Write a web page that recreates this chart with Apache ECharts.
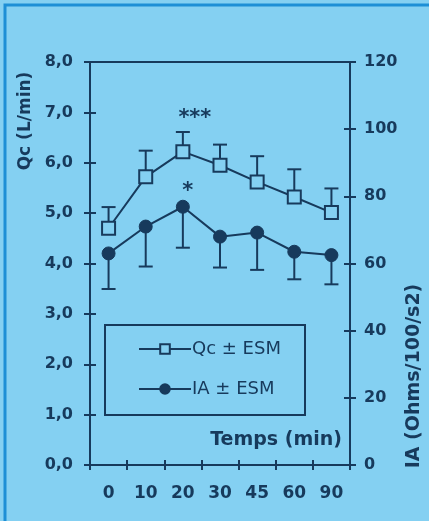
<!DOCTYPE html>
<html>
<head>
<meta charset="utf-8">
<script src="https://cdn.jsdelivr.net/npm/echarts@6/dist/echarts.min.js"></script>
<style>
html,body{margin:0;padding:0;background:#84d0f2;}
#c{width:429px;height:521px;}
</style>
</head>
<body>
<div id="c"></div>
<script>
// ---- data ----
var categories = ['0', '10', '20', '30', '45', '60', '90'];
var qcValues = [4.70, 5.72, 6.22, 5.95, 5.62, 5.32, 5.01];
var qcUpper  = [5.12, 6.24, 6.61, 6.36, 6.13, 5.87, 5.49];
var iaValues = [63.0, 71.0, 76.9, 68.0, 69.2, 63.5, 62.5];
var iaLower  = [52.4, 59.1, 64.7, 58.8, 58.1, 55.3, 53.8];
var leftTicks = {min: 0, max: 8, interval: 1};
var rightTicks = {min: 0, max: 120, interval: 20};
var qcStarIndex = 2, qcStarText = '***';
var iaStarIndex = 2, iaStarText = '*';

var ink = '#173a5c';
var bg = '#84d0f2';
var font = '"DejaVu Sans", Verdana, sans-serif';

function errSeries(name, yIdx, base, ends) {
  return {
    type: 'custom', name: name, yAxisIndex: yIdx, z: 1, silent: true,
    data: base.map(function (v, i) { return [i, v, ends[i]]; }),
    renderItem: function (params, api) {
      var p0 = api.coord([api.value(0), api.value(1)]);
      var p1 = api.coord([api.value(0), api.value(2)]);
      var hw = 7;
      var st = {stroke: ink, lineWidth: 2};
      return {type: 'group', children: [
        {type: 'line', shape: {x1: p0[0], y1: p0[1], x2: p1[0], y2: p1[1]}, style: st},
        {type: 'line', shape: {x1: p1[0] - hw, y1: p1[1], x2: p1[0] + hw, y2: p1[1]}, style: st}
      ]};
    }
  };
}

var chart = echarts.init(document.getElementById('c'));
var yLabel = {color: ink, fontFamily: font, fontSize: 16, fontWeight: 'bold'};
chart.setOption({
  backgroundColor: bg,
  animation: false,
  textStyle: {fontFamily: font},
  grid: {left: 90, right: 79, top: 62, bottom: 56, show: true, borderColor: ink, borderWidth: 2, backgroundColor: 'transparent'},
  legend: {
    orient: 'vertical', left: 133, top: 335, itemGap: 22, itemWidth: 52, itemHeight: 12,
    data: [{name: 'Qc ± ESM'}, {name: 'IA ± ESM'}],
    textStyle: {color: ink, fontSize: 18, fontFamily: font, padding: [0, 0, 0, -4]}
  },
  xAxis: [{
    type: 'category', data: categories, boundaryGap: true,
    axisLine: {lineStyle: {color: ink, width: 2}},
    axisTick: {show: true, length: 5, lineStyle: {color: ink, width: 2}},
    axisLabel: Object.assign({margin: 20}, yLabel, {fontSize: 17})
  }, {
    type: 'category', data: categories, boundaryGap: true, position: 'bottom',
    axisLine: {show: false}, axisLabel: {show: false},
    axisTick: {show: true, inside: true, length: 5, lineStyle: {color: ink, width: 2}}
  }],
  yAxis: [{
    type: 'value', min: leftTicks.min, max: leftTicks.max, interval: leftTicks.interval, position: 'left',
    axisLine: {show: true, lineStyle: {color: ink, width: 2}},
    axisTick: {show: true, length: 6, lineStyle: {color: ink, width: 2}},
    splitLine: {show: false},
    axisLabel: Object.assign({margin: 17, formatter: function (v) { return v.toFixed(1).replace('.', ','); }}, yLabel)
  }, {
    type: 'value', min: rightTicks.min, max: rightTicks.max, interval: rightTicks.interval, position: 'right',
    axisLine: {show: true, lineStyle: {color: ink, width: 2}},
    axisTick: {show: true, length: 6, lineStyle: {color: ink, width: 2}},
    splitLine: {show: false},
    axisLabel: Object.assign({margin: 14}, yLabel)
  }, {
    type: 'value', min: leftTicks.min, max: leftTicks.max, interval: leftTicks.interval, position: 'left',
    axisLine: {show: false}, axisLabel: {show: false}, splitLine: {show: false},
    axisTick: {show: true, inside: true, length: 6, lineStyle: {color: ink, width: 2}}
  }, {
    type: 'value', min: rightTicks.min, max: rightTicks.max, interval: rightTicks.interval, position: 'right',
    axisLine: {show: false}, axisLabel: {show: false}, splitLine: {show: false},
    axisTick: {show: true, inside: true, length: 6, lineStyle: {color: ink, width: 2}}
  }],
  series: [
    errSeries('qcErr', 0, qcValues, qcUpper),
    errSeries('iaErr', 1, iaValues, iaLower),
    {
      name: 'Qc ± ESM', type: 'line', yAxisIndex: 0, z: 3,
      symbol: 'rect', symbolSize: 13,
      lineStyle: {color: ink, width: 2},
      itemStyle: {color: bg, borderColor: ink, borderWidth: 2},
      data: qcValues.map(function (v, i) {
        return i === qcStarIndex ? {value: v, label: {show: true, formatter: qcStarText, position: 'top', distance: 24, offset: [12, 9], color: ink, fontSize: 21, fontWeight: 'bold', fontFamily: font}} : v;
      })
    },
    {
      name: 'IA ± ESM', type: 'line', yAxisIndex: 1, z: 3,
      symbol: 'circle', symbolSize: 13,
      lineStyle: {color: ink, width: 2},
      itemStyle: {color: ink, borderColor: ink, borderWidth: 1},
      data: iaValues.map(function (v, i) {
        return i === iaStarIndex ? {value: v, label: {show: true, formatter: iaStarText, position: 'top', distance: 6, offset: [5, 8], color: ink, fontSize: 21, fontWeight: 'bold', fontFamily: font}} : v;
      })
    }
  ],
  graphic: [
    {type: 'polyline', shape: {points: [[5, 521], [5, 5], [429, 5]]}, style: {stroke: '#1d8fd6', lineWidth: 3, fill: null}},
    {type: 'rect', shape: {x: 105, y: 325, width: 200, height: 90}, style: {stroke: ink, lineWidth: 2, fill: null}},
    {type: 'text', x: 26, y: 121, rotation: Math.PI / 2, style: {text: 'Qc (L/min)', fill: ink, font: 'bold 17px ' + font, textAlign: 'center', textVerticalAlign: 'middle'}},
    {type: 'text', x: 414, y: 376, rotation: Math.PI / 2, style: {text: 'IA (Ohms/100/s2)', fill: ink, font: 'bold 19px ' + font, textAlign: 'center', textVerticalAlign: 'middle'}},
    {type: 'text', x: 342, y: 440, style: {text: 'Temps (min)', fill: ink, font: 'bold 19px ' + font, textAlign: 'right', textVerticalAlign: 'middle'}}
  ]
});
</script>
</body>
</html>
